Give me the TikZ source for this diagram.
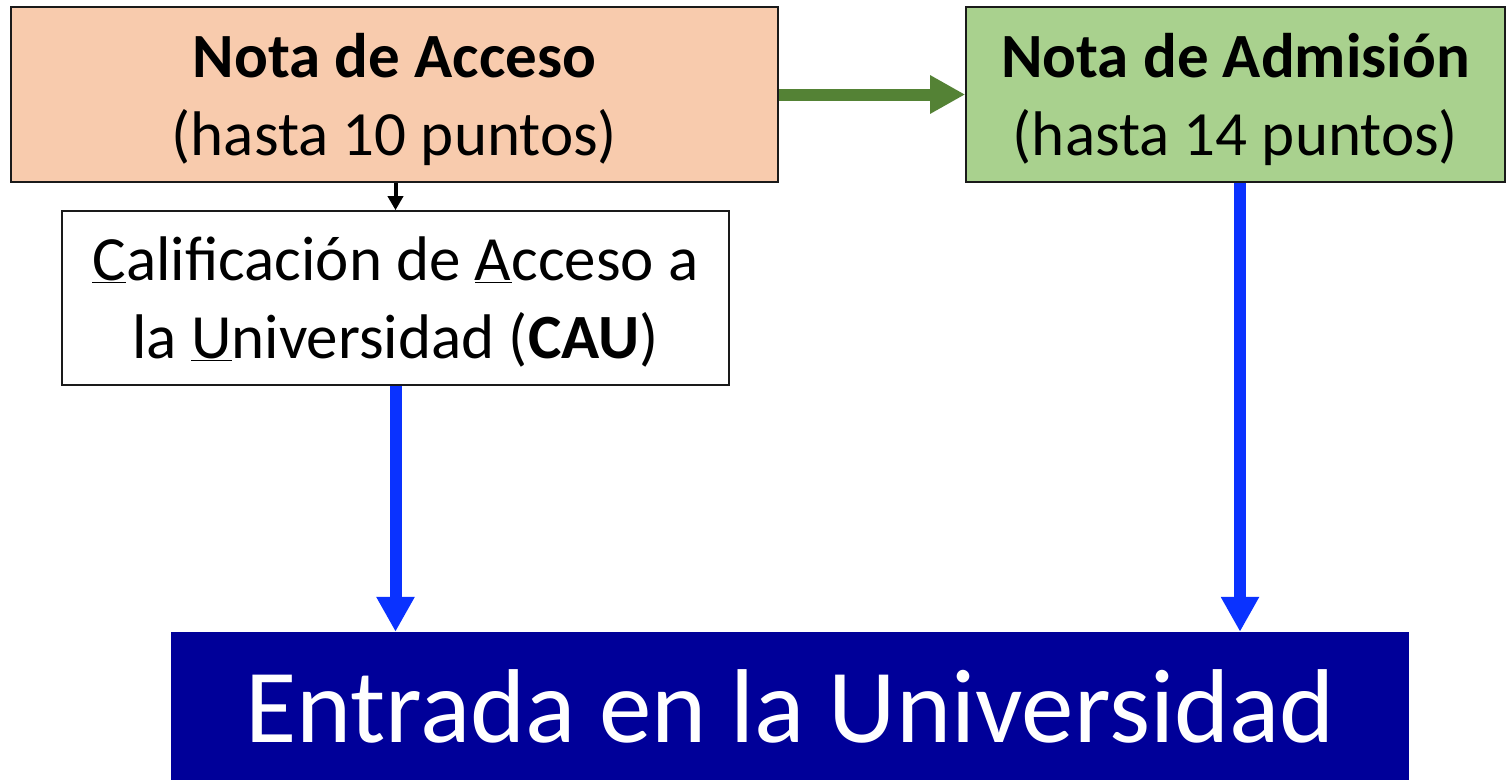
\documentclass[tikz,border=0pt]{standalone}
\usepackage{fontspec}
\setmainfont{Carlito}
\usetikzlibrary{arrows.meta}
\definecolor{orangefill}{HTML}{F8CBAD}
\definecolor{greenfill}{HTML}{A9D18E}
\definecolor{navyfill}{HTML}{000099}
\definecolor{arrowgreen}{HTML}{548235}
\definecolor{arrowblue}{HTML}{0A32FF}
\definecolor{boxline}{HTML}{1A1A1A}
\tikzset{
  box/.style={draw=boxline, line width=1.6pt, inner sep=0pt},
  boxtext/.style={inner sep=0pt, align=center, font=\fontsize{63}{78}\selectfont},
  bigarrow/.style={line width=12pt, -{Triangle[length=35pt,width=36pt]}},
  smallarrow/.style={line width=4pt, black, -{Triangle[length=14pt,width=15pt]}}
}
\begin{document}
\begin{tikzpicture}[x=1pt,y=-1pt]
\useasboundingbox (0,0) rectangle (1506,779);
\clip (0,0) rectangle (1506,779);
\fill[white] (0,0) rectangle (1506,779);
\node[box, fill=orangefill, minimum width=767pt, minimum height=175pt] (acc) at (394.5,94.5) {};
\node[boxtext] (acctext) at ([yshift=-4.5pt]acc.center)
  {\textbf{Nota de Acceso}\\(hasta 10 puntos)};
\node[box, fill=greenfill, minimum width=539pt, minimum height=175pt] (adm) at (1235.5,94.5) {};
\node[boxtext] (admtext) at ([yshift=-4.5pt]adm.center)
  {\textbf{Nota de Admisión}\\(hasta 14 puntos)};
\node[box, fill=white, minimum width=667pt, minimum height=174pt] (cau) at (395.5,298) {};
\node[boxtext] (cautext) at ([yshift=-4pt]cau.center)
  {\underline{C}alificación de \underline{A}cceso a\\la \underline{U}niversidad (\textbf{CAU})};
\node[draw=none, fill=navyfill, text=white, inner sep=0pt, minimum width=1238pt, minimum height=148pt,
  font=\fontsize{105}{120}\selectfont] (ent) at (790,706) {Entrada en la Universidad};
\draw[bigarrow, arrowgreen] (acc.east) -- (adm.west);
\draw[smallarrow] (cau.north |- acc.south) -- (cau.north);
\draw[bigarrow, arrowblue] (cau.south) -- (cau.south |- ent.north);
\draw[bigarrow, arrowblue] ([xshift=4.5pt]adm.south) -- ([xshift=4.5pt]adm.south |- ent.north);
\end{tikzpicture}
\end{document}
